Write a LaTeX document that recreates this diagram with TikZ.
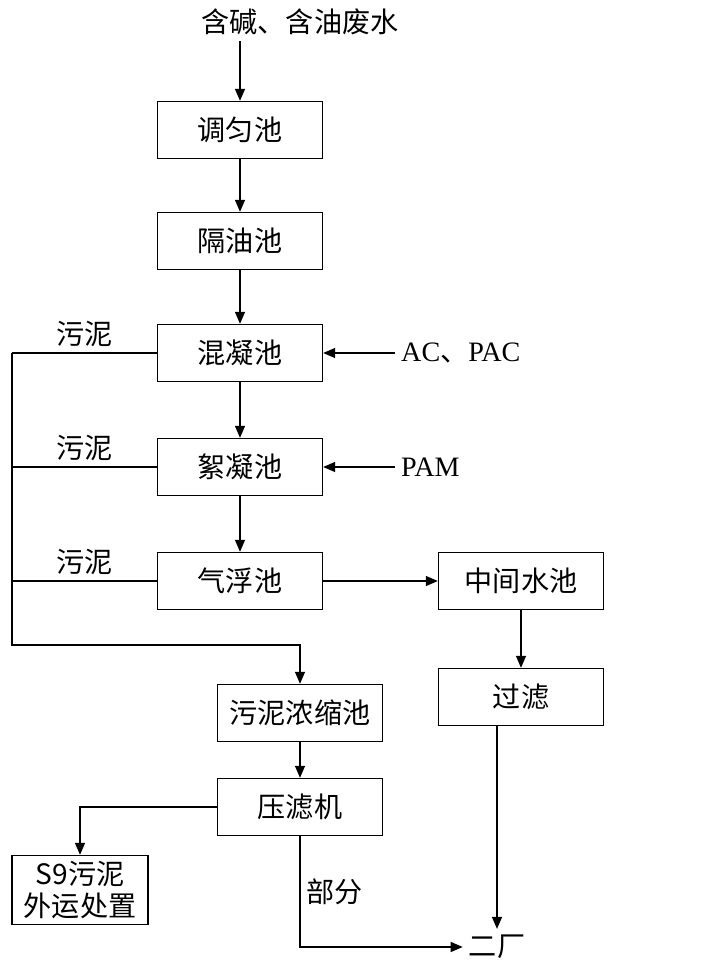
\documentclass[tikz,border=0pt]{standalone}
\usepackage{fontspec}
\setmainfont{Liberation Serif}
\newfontfamily\cjk{Noto Sans CJK SC}
\usetikzlibrary{arrows.meta,positioning}

\begin{document}
\begin{tikzpicture}[
    x=0.02cm, y=-0.02cm,
    box/.style={draw, line width=0.8pt, minimum width=3.3cm, minimum height=1.14cm, align=center, font=\cjk\fontsize{16}{19}\selectfont},
    lbl/.style={font=\cjk\fontsize{16}{19}\selectfont},
    chem/.style={font=\fontsize{16}{19}\selectfont},
    arrow/.style={-{Triangle[length=0.24cm,width=0.2cm]}, line width=0.8pt},
    pipe/.style={line width=0.8pt}
]
\useasboundingbox (0,0) rectangle (727,970);

\node[lbl] (feed) at (300,22) {含碱、含油废水};
\node[box] (tj) at (240,130) {调匀池};
\node[box] (gy) at (240,241) {隔油池};
\node[box] (hn) at (240,353) {混凝池};
\node[box] (xn) at (240,467) {絮凝池};
\node[box] (qf) at (240,581) {气浮池};
\node[box] (zj) at (521,581) {中间水池};
\node[box] (gl) at (521,697) {过滤};
\node[box] (nc) at (300,713) {污泥浓缩池};
\node[box] (yl) at (300,807) {压滤机};
\node[box, minimum width=2.72cm, minimum height=1.2cm, font=\cjk\fontsize{16}{18}\selectfont] (s9) at (80,890) {S9污泥\\外运处置};
\node[lbl] (ec) at (497,947) {二厂};
\node[chem, anchor=west] (pac) at (395,353) {AC{\cjk 、}PAC};
\node[chem, anchor=west] (pam) at (395,467) {PAM};

\coordinate (c1) at (12,353);
\coordinate (c2) at (12,467);
\coordinate (c3) at (12,581);
\coordinate (c4) at (12,645);

% water line
\draw[arrow] (feed.south -| tj) -- (tj);
\draw[arrow] (tj) -- (gy);
\draw[arrow] (gy) -- (hn);
\draw[arrow] (hn) -- (xn);
\draw[arrow] (xn) -- (qf);
\draw[arrow] (qf) -- (zj);
\draw[arrow] (zj) -- (gl);
\draw[arrow] (gl.south -| ec) -- (ec);

% dosing
\draw[arrow] (pac) -- (hn);
\draw[arrow] (pam) -- (xn);

% sludge line
\draw[pipe] (hn.west) -- node[lbl, above] {污泥} (c1);
\draw[pipe] (xn.west) -- node[lbl, above] {污泥} (c2);
\draw[pipe] (qf.west) -- node[lbl, above] {污泥} (c3);
\draw[arrow] (c1) -- (c4) -| (nc.north);
\draw[arrow] (nc) -- (yl);
\draw[arrow] (yl.west) -| (s9.north);
\draw[arrow] (yl.south) |- node[lbl, pos=0.25, right] {部分} (ec.west);
\end{tikzpicture}
\end{document}
